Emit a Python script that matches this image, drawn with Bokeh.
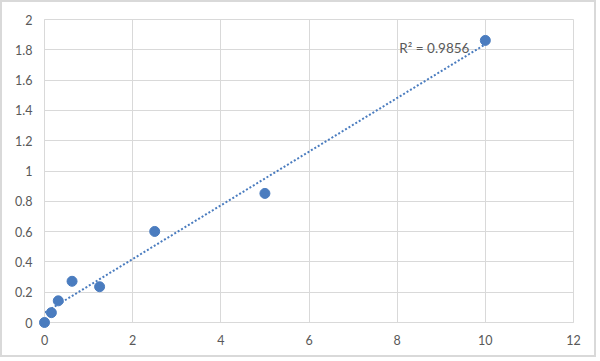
import numpy as np
from bokeh.plotting import figure
from bokeh.models import FixedTicker, Label
from bokeh.embed import file_html
from bokeh.resources import INLINE

# Data
conc = [0, 0.156, 0.3125, 0.625, 1.25, 2.5, 5, 10]
od = [0.0, 0.065, 0.143, 0.272, 0.236, 0.601, 0.852, 1.862]
x_ticks = [0, 2, 4, 6, 8, 10, 12]
y_ticks = [0, 0.2, 0.4, 0.6, 0.8, 1.0, 1.2, 1.4, 1.6, 1.8, 2.0]
y_tick_labels = ["0", "0.2", "0.4", "0.6", "0.8", "1", "1.2", "1.4", "1.6", "1.8", "2"]
r2_text = "R² = 0.9856"

BLUE = "#4a7cbf"
GRID = "#d9d9d9"
TXT = "#595959"
FONT = "Lato"

p = figure(width=596, height=357, output_backend="svg", toolbar_location=None,
           x_range=(0, 12), y_range=(0, 2),
           min_border_left=42, min_border_right=25, min_border_top=17, min_border_bottom=37)
p.background_fill_color = "white"
p.border_fill_color = "white"
p.outline_line_color = GRID
p.styles = {"border": "2px solid #d9d9d9"}

for ax in (p.xaxis[0], p.yaxis[0]):
    ax.axis_line_color = GRID
    ax.major_tick_line_color = None
    ax.minor_tick_line_color = None
    ax.major_tick_out = 0
    ax.major_tick_in = 0
    ax.major_label_text_color = TXT
    ax.major_label_text_font = FONT
    ax.major_label_text_font_size = "12.5px"
    ax.major_label_standoff = 12

p.xaxis.ticker = FixedTicker(ticks=x_ticks)
p.yaxis.ticker = FixedTicker(ticks=y_ticks)
p.yaxis.major_label_overrides = {v: s for v, s in zip(y_ticks, y_tick_labels)}

p.xgrid.ticker = FixedTicker(ticks=x_ticks)
p.ygrid.ticker = FixedTicker(ticks=y_ticks)
p.xgrid.grid_line_color = GRID
p.ygrid.grid_line_color = GRID
p.xgrid.grid_line_width = 1
p.ygrid.grid_line_width = 1

# linear trendline
slope, intercept = np.polyfit(conc, od, 1)
tx = [min(conc), max(conc)]
ty = [slope * v + intercept for v in tx]
p.line(tx, ty, line_color=BLUE, line_width=2, line_dash="2 2")

p.scatter(conc, od, size=10, fill_color=BLUE, line_color=BLUE, level="overlay")

p.add_layout(Label(x=8.05, y=1.81, text=r2_text, text_color=TXT, text_font=FONT,
                   text_font_size="13.5px", text_baseline="alphabetic"))

open("out.html", "w").write(file_html(p, INLINE))
